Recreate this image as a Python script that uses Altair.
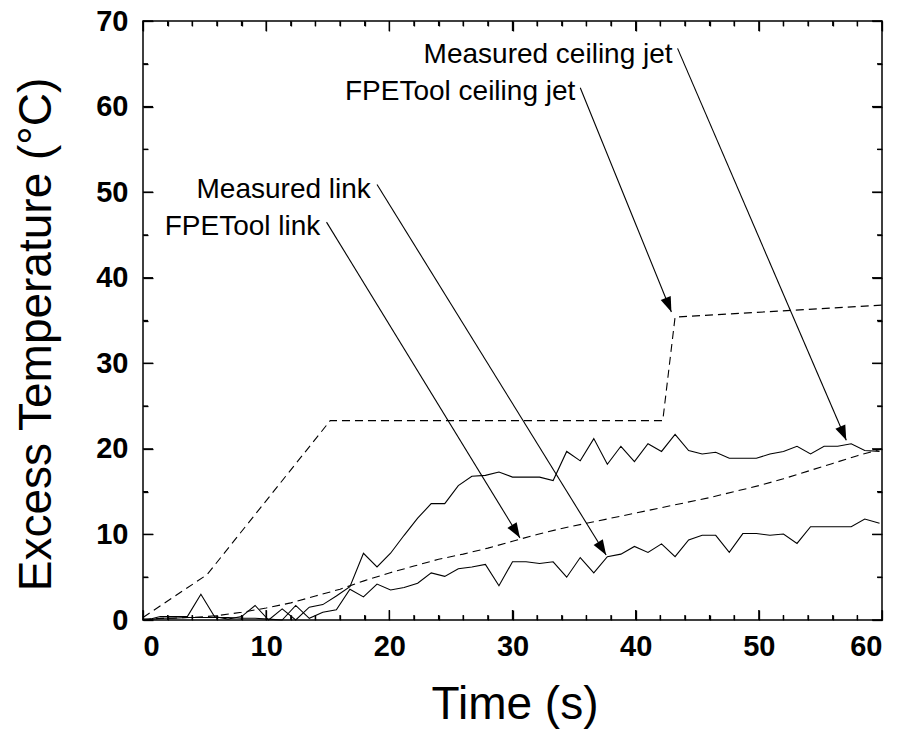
import math
import altair as alt
import pandas as pd

# ---------------- data ----------------
meas_t = [0.3, 1.4, 2.5, 3.6, 4.7, 5.8, 6.9, 8.0, 9.1, 10.2, 11.3, 12.4, 13.5, 14.6,
          15.7, 16.8, 17.9, 19.0, 20.1, 21.2, 22.3, 23.4, 24.5, 25.6, 26.7, 27.8,
          28.9, 30.0, 31.1, 32.2, 33.3, 34.4, 35.5, 36.6, 37.7, 38.8, 39.9, 41.0,
          42.1, 43.2, 44.3, 45.4, 46.5, 47.6, 48.7, 49.8, 50.9, 52.0, 53.1, 54.2,
          55.3, 56.4, 57.5, 58.6, 59.8]
meas_jet = [0.0, 0.4, 0.4, 0.4, 3.0, 0.4, 0.1, 0.4, 1.7, 0.0, 1.3, 0.0, 1.5, 1.8,
            2.8, 3.9, 7.8, 6.2, 7.8, 9.9, 11.9, 13.6, 13.6, 15.7, 16.8, 16.9,
            17.3, 16.7, 16.7, 16.7, 16.3, 19.7, 18.6, 21.2, 18.2, 20.3, 18.5, 20.6,
            19.7, 21.7, 19.8, 19.4, 19.6, 18.9, 18.9, 18.9, 19.4, 19.7, 20.3, 19.4,
            20.3, 20.3, 20.6, 19.8, 19.7]
meas_link = [0.0, 0.2, 0.2, 0.3, 0.3, 0.3, 0.3, 0.2, 0.2, 0.1, 0.0, 1.7, 0.2, 0.9,
             1.2, 3.6, 2.7, 4.2, 3.5, 3.8, 4.3, 5.5, 5.1, 6.0, 6.2, 6.5,
             4.0, 6.8, 6.8, 6.6, 6.8, 5.0, 7.3, 5.5, 7.4, 7.7, 8.6, 7.9,
             8.9, 7.4, 9.35, 9.9, 9.9, 7.9, 10.1, 10.1, 9.9, 10.05, 8.95, 10.9,
             10.9, 10.9, 10.9, 11.8, 11.3]

fpe_jet_t = [0.0, 5.2, 15.2, 42.2, 43.2, 60.0]
fpe_jet_v = [0.3, 5.3, 23.3, 23.3, 35.4, 36.8]

fpe_link_t = [0, 2, 4, 6, 8, 10, 12, 14, 16, 18, 20, 22, 24, 26, 28, 30, 32, 34,
              36, 38, 40, 42, 44, 46, 48, 50, 52, 54, 56, 58, 60]
fpe_link_v = [0.1, 0.2, 0.3, 0.5, 0.9, 1.4, 2.0, 2.8, 3.6, 4.6, 5.5, 6.3, 7.1, 7.7,
              8.4, 9.2, 10.0, 10.7, 11.3, 11.9, 12.5, 13.1, 13.7, 14.3, 15.0, 15.7,
              16.5, 17.4, 18.3, 19.2, 20.0]

# annotations: label, text anchor (t, v baseline), leader start, arrow tip
ann_label = ["Measured ceiling jet", "FPETool ceiling jet", "Measured link", "FPETool link"]
ann_text_t = [43.0, 35.1, 18.5, 14.4]
ann_text_v = [65.1, 60.8, 49.3, 45.0]
ann_start_t = [43.4, 35.5, 19.0, 14.9]
ann_start_v = [66.8, 62.2, 50.9, 46.5]
ann_tip_t = [57.1, 42.9, 37.6, 30.6]
ann_tip_v = [21.0, 36.0, 7.6, 9.6]

x_ticks = [0, 10, 20, 30, 40, 50, 60]
y_ticks = [0, 10, 20, 30, 40, 50, 60, 70]
x_minor = [2, 4, 6, 8, 12, 14, 16, 18, 22, 24, 26, 28, 32, 34, 36, 38,
           42, 44, 46, 48, 52, 54, 56, 58]
y_minor = [5, 15, 25, 35, 45, 55, 65]

# ---------------- layout ----------------
W, H = 739, 599
XMAX, YMAX = 60.0, 70.0
FONT = "Liberation Sans, Arial, Helvetica, sans-serif"
MAJ, MIN = 10, 5

xs = alt.Scale(domain=[0, XMAX], nice=False)
ys = alt.Scale(domain=[0, YMAX], nice=False)


def tick_axis(orient, vals, size, offset):
    """Label-less axis whose ticks point into the plot (moved to the opposite edge)."""
    return alt.Axis(orient=orient, offset=offset, values=vals, tickSize=size, ticks=True,
                    labels=False, domain=False, grid=False, title=None,
                    tickColor="black", tickWidth=1.3, tickOpacity=1)


df_mj = pd.DataFrame({"t": meas_t, "v": meas_jet})
df_ml = pd.DataFrame({"t": meas_t, "v": meas_link})
df_fj = pd.DataFrame({"t": fpe_jet_t, "v": fpe_jet_v})
df_fl = pd.DataFrame({"t": fpe_link_t, "v": fpe_link_v})

x_main = alt.X("t:Q", scale=xs,
               axis=alt.Axis(values=x_ticks, ticks=False, domain=False, grid=False,
                             labelFont=FONT, labelFontSize=29, labelFontWeight="bold",
                             labelColor="black", labelPadding=12,
                             title="Time (s)", titleFont=FONT, titleFontSize=46,
                             titleFontWeight="normal", titleColor="black",
                             titleX=W / 2 + 2, titleY=98, titleBaseline="alphabetic",
                             titleAnchor="middle", titleAlign="center"))
y_main = alt.Y("v:Q", scale=ys,
               axis=alt.Axis(values=y_ticks, ticks=False, domain=False, grid=False,
                             labelFont=FONT, labelFontSize=29, labelFontWeight="bold",
                             labelColor="black", labelPadding=15,
                             title="Excess Temperature (°C)", titleFont=FONT, titleFontSize=46,
                             titleFontWeight="normal", titleColor="black",
                             titleX=-93, titleY=313, titleBaseline="alphabetic",
                             titleAlign="center", titleAngle=270))

solid = dict(color="black", strokeWidth=1.1)
dashed = dict(color="black", strokeWidth=1.1, strokeDash=[8, 5])

# data layers; each also carries one set of inward tick marks
l_mj = alt.Chart(df_mj).mark_line(**solid).encode(x=x_main, y=y_main)
l_ml = alt.Chart(df_ml).mark_line(**solid).encode(
    x=alt.X("t:Q", scale=xs, axis=tick_axis("top", x_ticks, MAJ, -H)),        # bottom edge, major
    y=alt.Y("v:Q", scale=ys, axis=tick_axis("right", y_ticks, MAJ, -W)))      # left edge, major
l_fj = alt.Chart(df_fj).mark_line(**dashed).encode(
    x=alt.X("t:Q", scale=xs, axis=tick_axis("top", x_minor, MIN, -H)),        # bottom edge, minor
    y=alt.Y("v:Q", scale=ys, axis=tick_axis("right", y_minor, MIN, -W)))      # left edge, minor
l_fl = alt.Chart(df_fl).mark_line(**dashed).encode(
    x=alt.X("t:Q", scale=xs, axis=tick_axis("bottom", x_ticks, MAJ, -H)),     # top edge, major
    y=alt.Y("v:Q", scale=ys, axis=tick_axis("left", y_ticks, MAJ, -W)))       # right edge, major

# tick segments as marks as well (same places as the axis ticks)
pts = []
gid = 0
for t in x_ticks + x_minor:
    ln = MAJ if t in x_ticks else MIN
    dv = ln * YMAX / H
    for a, b in ((0.0, dv), (YMAX, YMAX - dv)):
        pts += [{"g": gid, "k": 0, "t": float(t), "v": a}, {"g": gid, "k": 1, "t": float(t), "v": b}]
        gid += 1
for v in y_ticks + y_minor:
    ln = MAJ if v in y_ticks else MIN
    dt = ln * XMAX / W
    for a, b in ((0.0, dt), (XMAX, XMAX - dt)):
        pts += [{"g": gid, "k": 0, "t": a, "v": float(v)}, {"g": gid, "k": 1, "t": b, "v": float(v)}]
        gid += 1
df_ticks = pd.DataFrame(pts)
tick_marks = alt.Chart(df_ticks).mark_line(color="black", strokeWidth=1.3).encode(
    x=alt.X("t:Q", scale=xs, axis=tick_axis("bottom", x_minor, MIN, -H)),     # top edge, minor
    y=alt.Y("v:Q", scale=ys, axis=tick_axis("left", y_minor, MIN, -W)),       # right edge, minor
    detail="g:N", order="k:Q")

# annotations
df_ann = pd.DataFrame({
    "label": ann_label, "tt": ann_text_t, "tv": ann_text_v,
    "st": ann_start_t, "sv": ann_start_v, "et": ann_tip_t, "ev": ann_tip_v,
})
angles = []
for s_t, s_v, e_t, e_v in zip(ann_start_t, ann_start_v, ann_tip_t, ann_tip_v):
    dx = (e_t - s_t) * W / XMAX
    dy = -(e_v - s_v) * H / YMAX
    angles.append(math.degrees(math.atan2(-dx, dy)) % 360)
df_ann["angle"] = angles

leaders = alt.Chart(df_ann).mark_rule(color="black", strokeWidth=1.1).encode(
    x=alt.X("st:Q", scale=xs, axis=None), y=alt.Y("sv:Q", scale=ys, axis=None),
    x2="et:Q", y2="ev:Q")
ARROW = "M0,0L-0.36,-1L0.36,-1Z"
heads = alt.Chart(df_ann).mark_point(shape=ARROW, filled=True, color="black",
                                     opacity=1, size=900, strokeWidth=0).encode(
    x=alt.X("et:Q", scale=xs, axis=None), y=alt.Y("ev:Q", scale=ys, axis=None),
    angle=alt.Angle("angle:Q", scale=None))
texts = alt.Chart(df_ann).mark_text(align="right", baseline="alphabetic", font=FONT,
                                    fontSize=28, color="black").encode(
    x=alt.X("tt:Q", scale=xs, axis=None), y=alt.Y("tv:Q", scale=ys, axis=None),
    text="label:N")

chart = alt.layer(l_mj, l_ml, l_fj, l_fl, tick_marks, leaders, heads, texts).resolve_axis(
    x="independent", y="independent"
).properties(
    width=W, height=H,
    autosize=alt.AutoSizeParams(type="none"),
    padding={"left": 143, "top": 21, "right": 25, "bottom": 110},
).configure_view(stroke="black", strokeWidth=1.5)

chart.save("out.html", embed_options={"renderer": "svg", "actions": False})
